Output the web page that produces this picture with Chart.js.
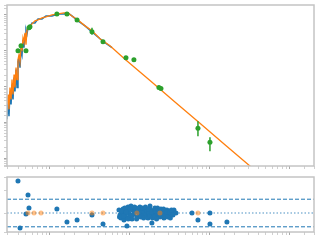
<!DOCTYPE html>
<html>
<head>
<meta charset="utf-8">
<script src="https://cdn.jsdelivr.net/npm/chart.js@4.4.1/dist/chart.umd.min.js"></script>
<style>
  html, body { margin: 0; padding: 0; background: #fff; }
  #wrap { position: relative; width: 320px; height: 240px; }
  #sedChart { position: absolute; left: 0; top: 0; }
  #resChart { position: absolute; left: 0; top: 172px; }
</style>
</head>
<body>
<div id="wrap">
  <canvas id="sedChart" width="320" height="172"></canvas>
  <canvas id="resChart" width="320" height="68"></canvas>
</div>
<script>
// observed spectrum
const specWave = [0.0290,0.0299,0.0307,0.0316,0.0326,0.0335,0.0345,0.0355,0.0365,0.0376,0.0387,0.0398,0.0410,0.0422,0.0434,0.0447,0.0460,0.0473,0.0487,0.0501,0.0516,0.0531,
  0.0562,0.0596,0.0649,0.0708,0.0794,0.0891,0.106,0.126,0.150,0.168,0.188,0.224,0.274,0.335,0.422,0.487,0.596];
const specFlux = [12.1,43.6,14.7,72.6,31.6,114,43.6,178,72.6,297,93.8,495,639,337,1066,774,2021,1212,2783,3831,2966,4354,
  4642,5995,5995,7743,7743,9380,9380,10660,10660,11360,9380,6813,4948,3371,2154,1668,1212];

// model
const modelWave = [0.0290,0.0299,0.0307,0.0316,0.0326,0.0335,0.0345,0.0355,0.0365,0.0376,0.0387,0.0398,0.0410,0.0422,0.0434,0.0447,0.0460,0.0473,0.0487,0.0501,0.0516,0.0531,
  0.0562,0.0596,0.0649,0.0708,0.0794,0.0891,0.106,0.126,0.150,0.168,0.188,0.224,0.274,0.335,0.422,0.562,0.866,1.78,3.65,7.50,15.4,31.6,48.7];
const modelFlux = [31.6,59.9,23.0,93.8,43.6,156,59.9,215,93.8,337,156,562,774,495,1212,1066,2297,1778,3162,1468,3831,4084,
  4948,5623,6813,7264,8254,8799,10000,10660,11360,11360,9380,7264,4948,3594,2154,1377,580,147,37.1,9.38,2.37,0.600,0.261];

// photometry
const photWave = [0.0398,0.0434,0.0501,0.0546,0.0562,0.122,0.163,0.218,0.335,0.460,0.891,1.12,2.30,2.44,7.08,10.0];
const photFlux = [1000,1377,1000,4354,4642,10660,10660,7264,3371,1778,639,562,93.8,88.0,6.81,2.78];
const photLo = [null,null,null,null,null,null,null,null,2783,null,null,null,null,null,4.08,1.56];
const photHi = [null,null,null,null,null,null,null,null,4354,null,null,null,null,null,10.7,3.83];

// residuals
const resWave = [0.0398,0.0422,0.0531,0.0546,0.0501,0.122,0.163,0.218,0.335,0.460,
  0.729,0.750,0.772,0.794,0.818,0.841,0.866,0.891,0.917,0.944,0.972,1.00,1.03,1.06,1.09,1.12,1.15,1.19,1.22,1.26,
  1.30,1.33,1.37,1.41,1.45,1.50,1.54,1.58,1.63,1.68,1.73,1.78,1.83,1.88,1.94,2.00,2.05,2.11,2.18,2.24,
  2.30,2.37,2.44,2.51,2.59,2.66,2.74,2.82,2.90,2.99,3.07,3.16,3.25,3.35,3.55,3.76,0.917,
  0.74,0.78,0.83,0.86,0.90,0.95,1.01,1.07,1.14,1.21,1.27,1.35,1.43,1.48,1.56,1.61,1.70,1.75,1.86,1.91,
  2.02,2.08,2.15,2.21,2.33,2.41,2.55,2.63,2.70,2.86,2.95,3.11,3.20,3.30,3.45,
  5.96,7.08,10.0,10.0,16.3];
const resVal = [6.96,-3.26,3.91,1.09,-0.22,0.87,-1.96,-1.52,-0.43,-2.39,
  0.65,-0.43,-1.09,0.22,0.87,-1.52,-0.22,-0.87,0.43,1.30,0,-0.65,1.52,-1.30,0.65,-0.22,0.22,1.09,-0.87,0.43,
  -0.22,1.30,0,0.65,-0.65,0.22,0.87,-0.43,0.43,-1.09,0,1.52,0.65,-2.17,-0.22,0.43,1.09,-0.65,0.22,0.65,
  -0.22,-0.87,0.87,0,0.43,-1.09,0.22,-0.43,0.65,0,-0.65,0.43,-0.22,0.22,0.65,0,-2.83,
  -0.87,0.43,-0.65,1.09,0.22,-1.30,0.87,-0.43,1.30,-1.30,0.87,-0.87,1.09,-1.09,1.30,-0.87,0.87,-0.65,0.22,-1.09,
  -0.87,0.43,-1.30,1.09,0.43,-0.43,-0.65,0.87,-0.65,0.22,-0.87,0.22,-1.09,0.65,-0.43,
  0,-1.52,0,-2.39,-1.96];
const resPhotWave = [0.0531,0.0631,0.0772,0.335,0.460,1.22,2.37,7.08];
const resPhotVal = [0,0,0,0,0,0,0,0];

const xMin = 0.029, xMax = 200;
const fluxMin = 0.639, fluxMax = 18950;
const resMin = -4.13, resMax = 7.83, resBand = 3;

const blue = "#1f77b4", orange = "#ff7f0e", green = "#2ca02c";

const pts = (xs, ys) => xs.map((x, i) => ({ x, y: ys[i] }));

// error bars as one broken line
const errBars = [];
photWave.forEach((x, i) => {
  if (photLo[i] == null) return;
  errBars.push({ x, y: photLo[i] }, { x, y: photHi[i] }, { x, y: null });
});

const frame = {
  id: "frame",
  afterDraw(chart) {
    const { ctx, chartArea: a } = chart;
    ctx.save();
    ctx.strokeStyle = "#c4c4c4";
    ctx.lineWidth = 1.5;
    ctx.strokeRect(a.left, a.top, a.right - a.left, a.bottom - a.top);
    ctx.restore();
  }
};

function tickGrid() {
  return {
    drawOnChartArea: false,
    drawTicks: true,
    tickLength: 3,
    tickColor: c => (c.tick && c.tick.major ? "#a8a8a8" : "#d0d0d0")
  };
}

function logAxis(min, max) {
  return { type: "logarithmic", min, max, ticks: { display: false }, grid: tickGrid(), border: { display: false } };
}

const common = {
  responsive: false,
  animation: false,
  plugins: { legend: { display: false }, tooltip: { enabled: false } },
  elements: { point: { radius: 0, borderWidth: 0 }, line: { tension: 0 } }
};

new Chart(document.getElementById("sedChart"), {
  type: "line",
  data: {
    datasets: [
      { data: pts(photWave, photFlux), showLine: false, pointRadius: 2.5, pointBackgroundColor: green, order: 1 },
      { data: errBars, borderColor: green, borderWidth: 1.5, spanGaps: false, order: 2 },
      { data: pts(modelWave, modelFlux), borderColor: orange, borderWidth: 1.3, order: 3 },
      { data: pts(specWave, specFlux), borderColor: blue, borderWidth: 1.5, order: 4 }
    ]
  },
  options: {
    ...common,
    layout: { padding: { left: 4, right: 6, top: 5, bottom: 3 } },
    scales: {
      x: logAxis(xMin, xMax),
      y: logAxis(fluxMin, fluxMax)
    }
  },
  plugins: [frame]
});

new Chart(document.getElementById("resChart"), {
  type: "line",
  data: {
    datasets: [
      { data: pts(resPhotWave, resPhotVal), showLine: false, pointRadius: 2.5, pointBackgroundColor: "rgba(255,127,14,0.5)", order: 1 },
      { data: pts(resWave, resVal), showLine: false, pointRadius: 2.5, pointBackgroundColor: blue, order: 2 },
      { data: [{ x: xMin, y: 0 }, { x: xMax, y: 0 }], borderColor: "rgba(31,119,180,0.8)", borderWidth: 1, borderDash: [1.5, 2], order: 3 },
      { data: [{ x: xMin, y: resBand }, { x: xMax, y: resBand }], borderColor: blue, borderWidth: 1, borderDash: [4, 2], order: 3 },
      { data: [{ x: xMin, y: -resBand }, { x: xMax, y: -resBand }], borderColor: blue, borderWidth: 1, borderDash: [4, 2], order: 3 }
    ]
  },
  options: {
    ...common,
    layout: { padding: { left: 4, right: 6, top: 5, bottom: 5 } },
    scales: {
      x: logAxis(xMin, xMax),
      y: { type: "linear", min: resMin, max: resMax, ticks: { display: false, stepSize: 5 }, grid: tickGrid(), border: { display: false } }
    }
  },
  plugins: [frame]
});
</script>
</body>
</html>
